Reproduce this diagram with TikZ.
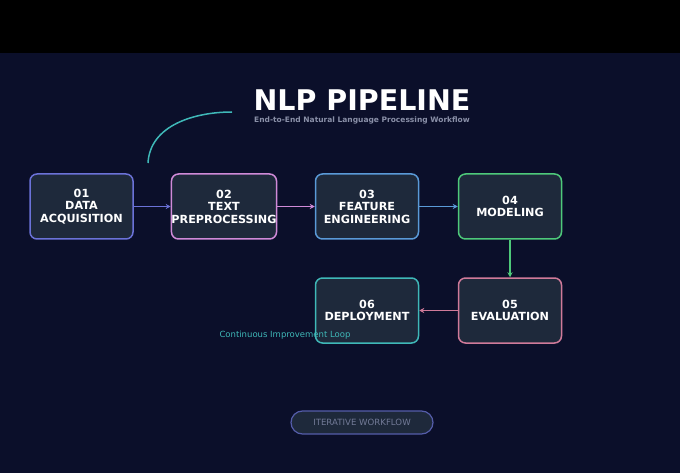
\documentclass[tikz,border=0pt]{standalone}
\usepackage{fontspec}
\setmainfont{DejaVu Sans}
\usetikzlibrary{arrows.meta}
\definecolor{bg}{HTML}{0B0F2A}
\definecolor{boxf}{HTML}{1E293B}
\definecolor{cA}{HTML}{6B72D8}
\definecolor{cB}{HTML}{D08AD8}
\definecolor{cC}{HTML}{5A9AD8}
\definecolor{cD}{HTML}{4EC97A}
\definecolor{cE}{HTML}{D07A9A}
\definecolor{cF}{HTML}{3FB8B8}
\definecolor{sub}{HTML}{8A90A8}
\begin{document}
\begin{tikzpicture}[x=1pt,y=-1pt,
  stagebox/.style={draw,line width=1.5pt,fill=boxf,rounded corners=7pt,minimum width=103pt,minimum height=65pt,
    text=white,font=\bfseries\fontsize{11.2}{12.5}\selectfont,align=center,inner sep=0pt},
  conn/.style={line width=1.3pt,-{Stealth[length=5pt,width=5pt]}}]
\useasboundingbox (0,0) rectangle (680,473);
\fill[black] (0,0) rectangle (680,53);
\fill[bg] (0,53) rectangle (680,473);
\node[font=\bfseries\fontsize{28.5}{30}\selectfont,text=white,inner sep=0pt,anchor=base] (title) at (362,111) {NLP PIPELINE};
\node[font=\bfseries\fontsize{7.5}{8}\selectfont,text=sub,inner sep=0pt,anchor=base] (subt) at (362,123) {End-to-End Natural Language Processing Workflow};
\draw[cF,line width=1.5pt] (148,163) .. controls (150,125) and (195,112) .. (232,112);
\node[stagebox,draw=cA] (s1) at (81.5,206.5) {01\\DATA\\ACQUISITION};
\node[stagebox,draw=cB] (s2) at (224,206.5) {02\\TEXT\\PREPROCESSING};
\node[stagebox,draw=cC] (s3) at (367,206.5) {03\\FEATURE\\ENGINEERING};
\node[stagebox,draw=cD] (s4) at (510,206.5) {04\\MODELING};
\node[stagebox,draw=cE] (s5) at (510,310.5) {05\\EVALUATION};
\node[stagebox,draw=cF] (s6) at (367,310.5) {06\\DEPLOYMENT};
\draw[conn,cA] (s1) -- (s2);
\draw[conn,cB] (s2) -- (s3);
\draw[conn,cC] (s3) -- (s4);
\draw[conn,cD] (s4) -- (s5);
\draw[conn,cE] (s5) -- (s6);
\node[font=\fontsize{8.5}{9}\selectfont,text=cF] (loop) at (285,335) {Continuous Improvement Loop};
\node[draw=cA!70!boxf,line width=1.2pt,fill=boxf,rounded corners=11.5pt,minimum width=142pt,minimum height=23pt,
  font=\fontsize{8.6}{9}\selectfont,text=sub!120!white] (pill) at (362,422.5) {ITERATIVE WORKFLOW};
\end{tikzpicture}
\end{document}
